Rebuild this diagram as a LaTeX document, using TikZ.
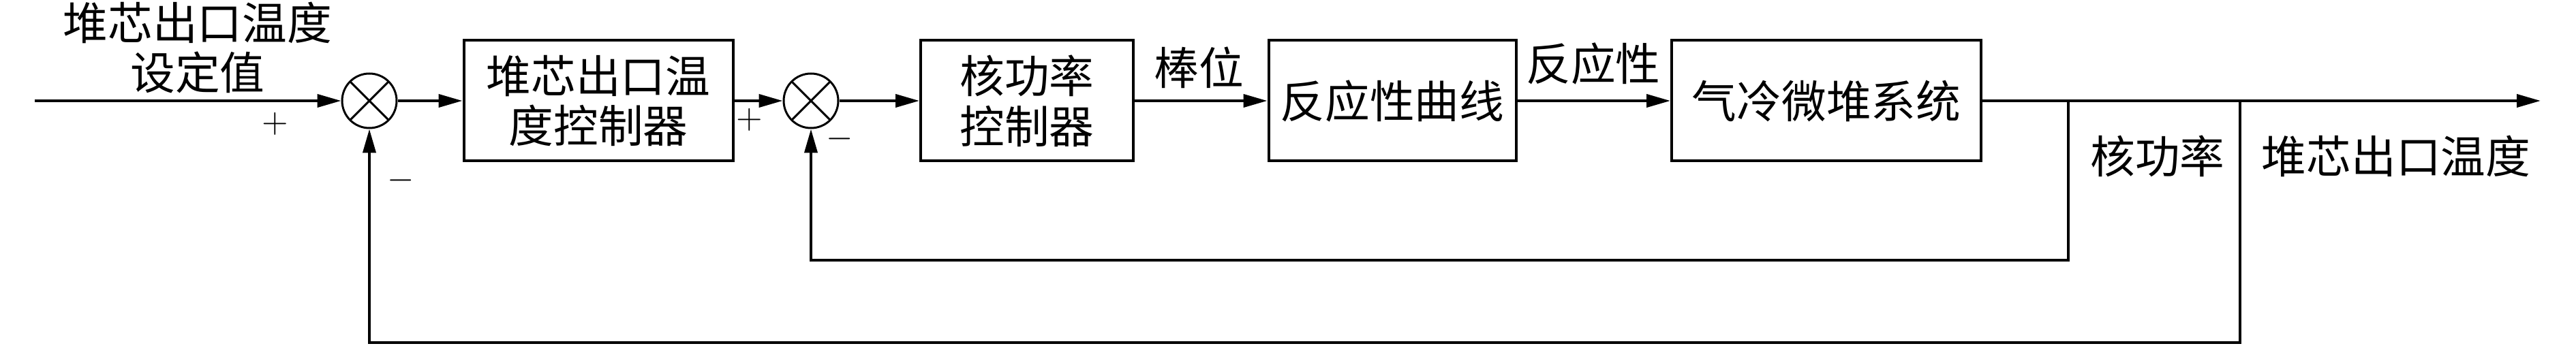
\documentclass[tikz,border=0pt]{standalone}
\usepackage{fontspec}
\newfontfamily\cjk{Noto Sans CJK SC}
\usetikzlibrary{arrows.meta,positioning}

\begin{document}
\begin{tikzpicture}[
    >={Triangle[length=3.5mm,width=1.9mm]}, line width=0.4mm
  , block/.style={draw,minimum height=1.77cm,align=center,inner sep=0pt,
      font=\cjk\fontsize{18.7}{21}\selectfont}
  , sumx/.style={draw,circle,minimum size=0.8cm,inner sep=0pt,line width=0.3mm,
      path picture={\draw[line width=0.3mm]
        (path picture bounding box.north west) -- (path picture bounding box.south east)
        (path picture bounding box.north east) -- (path picture bounding box.south west);}}
  , lbl/.style={align=center,inner sep=0pt,font=\cjk\fontsize{18.7}{21}\selectfont}
  , sgn/.style={inner sep=0pt,font=\fontsize{15}{17}\selectfont}
  ]
  \useasboundingbox (0,0) rectangle (37.8,5.08);

  % forward path
  \node[sumx] (s1) at (5.42,3.6) {};
  \node[block,minimum width=3.95cm] (b1) at (8.78,3.6) {堆芯出口温\\度控制器};
  \node[sumx] (s2) at (11.90,3.6) {};
  \node[block,minimum width=3.12cm] (b2) at (15.07,3.6) {核功率\\控制器};
  \node[block,minimum width=3.63cm] (b3) at (20.43,3.6) {反应性曲线};
  \node[block,minimum width=4.54cm] (b4) at (26.80,3.6) {气冷微堆系统};

  \coordinate (in) at (0.51,3.6);
  \coordinate (out) at (37.28,3.6);
  \coordinate (br1) at (30.35,3.6);
  \coordinate (br2) at (32.87,3.6);
  \coordinate (fb1) at (30.35,1.26);
  \coordinate (fb2) at (32.87,0.05);

  \path[->]
  (in) edge (s1)
  (s1) edge (b1)
  (b1) edge (s2)
  (s2) edge (b2)
  (b2) edge (b3)
  (b3) edge (b4)
  (b4) edge (out)
  ;
  % feedback
  \draw[->] (br1) -- (fb1) -| (s2);
  \draw[->] (br2) -- (fb2) -| (s1);

  % labels
  \node[lbl] (ref) at (2.9,4.38) {堆芯出口温度\\设定值};
  \node[lbl] (rod) at (17.59,4.09) {棒位};
  \node[lbl] (rho) at (23.38,4.15) {反应性};
  \node[lbl] (pow) at (31.66,2.79) {核功率};
  \node[lbl] (tout) at (35.16,2.79) {堆芯出口温度};

  \node[sgn] (p1) at (4.04,3.26) {$+$};
  \node[sgn] (m1) at (5.88,2.43) {$-$};
  \node[sgn] (p2) at (11.00,3.32) {$+$};
  \node[sgn] (m2) at (12.32,3.04) {$-$};
\end{tikzpicture}
\end{document}
